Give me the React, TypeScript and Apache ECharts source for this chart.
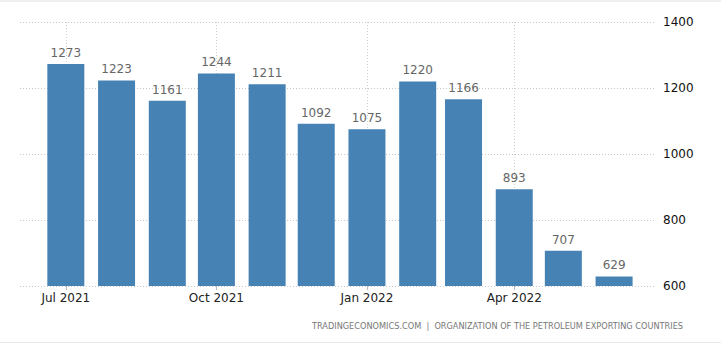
import React, { useEffect, useRef } from "react";
import * as echarts from "echarts";

const months: string[] = ["2021-07", "2021-08", "2021-09", "2021-10", "2021-11", "2021-12", "2022-01", "2022-02", "2022-03", "2022-04", "2022-05", "2022-06"];
const values: number[] = [1273, 1223, 1161, 1244, 1211, 1092, 1075, 1220, 1166, 893, 707, 629];
const xTickMonths: string[] = ["2021-07", "2021-10", "2022-01", "2022-04"];
const yTicks: number[] = [600, 800, 1000, 1200, 1400];
const footer = "TRADINGECONOMICS.COM  |  ORGANIZATION OF THE PETROLEUM EXPORTING COUNTRIES";

const MONTH_NAMES = ["Jan", "Feb", "Mar", "Apr", "May", "Jun", "Jul", "Aug", "Sep", "Oct", "Nov", "Dec"];
const toTs = (m: string) => {
  const [y, mo] = m.split("-").map(Number);
  return new Date(y, mo - 1, 1).getTime();
};

export default function App() {
  const ref = useRef<HTMLDivElement>(null);
  useEffect(() => {
    if (!ref.current) return;
    const chart = echarts.init(ref.current, null, { renderer: "svg" });
    const tickTs = xTickMonths.map(toTs);
    const day = 86400000;
    chart.setOption({
      animation: false,
      backgroundColor: "#fff",
      grid: { left: 20, right: 66, top: 22, bottom: 70 },
      xAxis: {
        type: "value",
        min: toTs("2021-07") - 28 * day,
        max: toTs("2022-06") + 25 * day,
        axisLine: { show: false },
        axisTick: { show: true, customValues: tickTs, length: 4, lineStyle: { color: "#bbb" } },
        axisLabel: {
          customValues: tickTs,
          color: "#222",
          fontSize: 12,
          fontFamily: "DejaVu Sans",
          margin: 6,
          formatter: (v: number) => {
            const d = new Date(v);
            return MONTH_NAMES[d.getMonth()] + " " + d.getFullYear();
          },
        },
        splitLine: { show: true, lineStyle: { color: "#d0d0d0", type: [1, 2] } },
      },
      yAxis: {
        type: "value",
        position: "right",
        min: yTicks[0],
        max: yTicks[yTicks.length - 1],
        interval: 200,
        axisLine: { show: false },
        axisTick: { show: false },
        axisLabel: {
          color: "#111",
          fontSize: 12,
          fontFamily: "DejaVu Sans",
          margin: 8,
          formatter: (v: number) => String(v),
        },
        splitLine: { show: true, lineStyle: { color: "#c8c8c8", type: [1, 2] } },
      },
      series: [
        {
          type: "bar",
          barWidth: 37,
          data: months.map((m, i) => [toTs(m), values[i]]),
          itemStyle: { color: "#4682B4" },
          label: {
            show: true,
            position: "top",
            distance: 5,
            color: "#666",
            fontSize: 12,
            fontFamily: "DejaVu Sans",
          },
        },
      ],
      graphic: [
        { type: "line", shape: { x1: 0, y1: 1, x2: 721, y2: 1 }, style: { stroke: "#e0e0e0", lineWidth: 1 } },
        { type: "line", shape: { x1: 0, y1: 342.5, x2: 721, y2: 342.5 }, style: { stroke: "#e8e8e8", lineWidth: 1 } },
        {
          type: "text",
          right: 38,
          top: 322,
          style: { text: footer, fill: "#777", fontSize: 8.2, fontFamily: "DejaVu Sans" },
        },
      ],
    });
    return () => chart.dispose();
  }, []);
  return <div ref={ref} style={{ position: "fixed", left: 0, top: 0, width: 721, height: 356 }} />;
}
